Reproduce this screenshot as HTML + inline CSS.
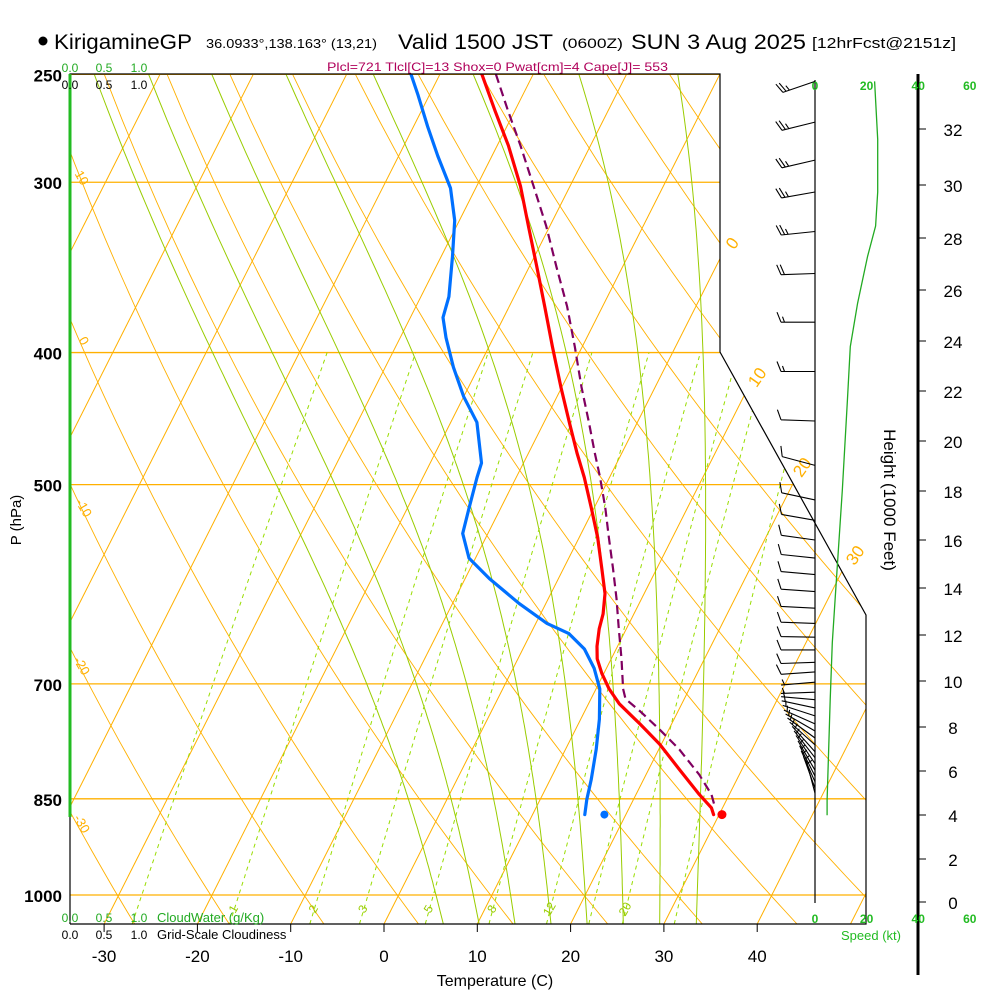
<!DOCTYPE html>
<html><head><meta charset="utf-8"><style>
html,body{margin:0;padding:0;background:#fff;}
svg{display:block;font-family:"Liberation Sans",Arial,sans-serif;}
</style></head><body>
<svg id="chart" width="1000" height="1000" viewBox="0 0 1000 1000" xmlns="http://www.w3.org/2000/svg">
<defs><clipPath id="plotclip"><polygon points="70,74 720,74 720,352 866,615 866,924 70,924"/></clipPath></defs>
<g>
<circle cx="43" cy="41" r="4.5" fill="#000"/>
<text x="54" y="49" font-size="21" textLength="138" lengthAdjust="spacingAndGlyphs">KirigamineGP</text>
<text x="206" y="48" font-size="12.5" textLength="171" lengthAdjust="spacingAndGlyphs">36.0933°,138.163° (13,21)</text>
<text x="398" y="49" font-size="21" textLength="155" lengthAdjust="spacingAndGlyphs">Valid 1500 JST</text>
<text x="562" y="48" font-size="14" textLength="61" lengthAdjust="spacingAndGlyphs">(0600Z)</text>
<text x="631" y="49" font-size="21" textLength="175" lengthAdjust="spacingAndGlyphs">SUN 3 Aug 2025</text>
<text x="812" y="48" font-size="15" textLength="144" lengthAdjust="spacingAndGlyphs">[12hrFcst@2151z]</text>
<text x="327" y="71" font-size="12" fill="#b0005a" textLength="341" lengthAdjust="spacingAndGlyphs">Plcl=721 Tlcl[C]=13 Shox=0 Pwat[cm]=4 Cape[J]= 553</text>
</g>
<g id="grid" clip-path="url(#plotclip)"></g>
<g id="data" clip-path="url(#plotclip)"></g>
<g id="axes"></g>
</svg>
<script>
// ---- sounding data (pressure hPa, temperature C) ----
const tempP = [250,266,282,302,323,346,370,396,424,450,474,494,520,547,576,601,622,638,657,671,688,706,724,749,775,809,844,863,873];
const tempT = [-35.5,-32.1,-28.8,-25.3,-22.3,-19.2,-16.2,-13.2,-10.1,-7.3,-4.8,-2.7,-0.3,2.0,4.1,5.8,6.7,7.1,7.8,8.5,9.8,11.4,13.3,16.6,19.8,23.3,26.8,28.8,29.4];
const dewP = [250,259,273,287,303,320,340,364,377,390,410,431,450,482,494,520,543,566,586,611,632,643,660,682,706,743,782,823,851,873];
const dewT = [-43.1,-41.2,-38.5,-35.8,-32.7,-30.5,-28.8,-27.0,-26.5,-25.1,-22.7,-20.0,-17.2,-14.5,-14.2,-13.4,-12.7,-10.7,-7.4,-2.9,1.2,4.1,6.6,8.7,10.4,12.0,13.3,14.4,15.0,15.6];
const parcelP = [250,266,282,302,323,346,370,396,424,450,474,494,520,547,576,606,638,671,706,718,733,756,782,816,844,863];
const parcelT = [-34.0,-30.7,-27.5,-23.9,-20.4,-17.1,-13.8,-10.8,-7.9,-5.2,-2.9,-1.0,1.2,3.2,5.3,7.3,9.2,11.1,12.9,13.7,15.9,19.0,22.2,25.7,28.1,29.2];
const sfcP = 873, sfcT = 30.3, sfcTd = 17.7;
// ---- wind data ----
const windP = [253,271,289,305,326,350,380,413,449,484,513,531,549,566,582,599,616,632,647,661,675,686,698,710,719,729,739,749,758,767,776,785,793,801,810,818,826,835,842];
const windDir = [251,256,257,260,264,268,270,270,272,285,282,280,278,276,275,274,273,272,271,270,268,266,265,268,275,282,288,294,300,306,312,318,322,326,330,333,336,340,345];
const windSpd = [25,25,25,25,25,20,15,15,10,10,10,10,10,10,10,10,10,10,10,10,10,10,5,5,5,5,5,5,5,5,5,5,5,5,5,5,5,5,5];
const spdP = [253,279,305,323,340,368,396,435,505,607,653,719,852,874];
const spdV = [23.1,24.3,24.3,23.5,20.4,16.5,13.7,12.5,10.6,7.8,6.7,5.9,4.7,4.7];
// ---- grid definitions / tick labels ----
const pLevels = [250,300,400,500,700,850,1000];
const tTicks = [-30,-20,-10,0,10,20,30,40];
const isotherms = [-110,-100,-90,-80,-70,-60,-50,-40,-30,-20,-10,0,10,20,30,40,50];
const thetas = [233,243,253,263,273,283,293,303,313,323,333,343,353,363,373,383,393,403,413,423,433,443,453,463,473];
const moistStart = [4,8,12,16,20,24,28,32];
const mixRatios = [0.4,1,2,3,5,8,12,16,20,28];
const mixLabels = ["1","2","3","5","8","12","20"];
const heightTicks = [0,2,4,6,8,10,12,14,16,18,20,22,24,26,28,30,32];
const heightY = [902,859,815,771,727,681,635,588,540,491,441,391,341,290,238,185,129];
const speedTicks = [0,20,40,60];

const NS='http://www.w3.org/2000/svg';
function yP(p){return 895+592*Math.log(p/1000);}
function xT(T,p){return 384+9.33*T+0.505*(924-yP(p));}
function xSpd(s){return 815+2.58*s;}
function mk(tag,attrs,parent){const e=document.createElementNS(NS,tag);for(const k in attrs)e.setAttribute(k,attrs[k]);parent.appendChild(e);return e;}
const grid=document.getElementById('grid'), data=document.getElementById('data'), axes=document.getElementById('axes');
const ORANGE='#ffb000', GREEN='#99cc00';

pLevels.forEach(p=>{const l=mk('line',{x1:70,x2:866,y1:yP(p),y2:yP(p),stroke:ORANGE,'stroke-width':1.3},grid);

});
isotherms.forEach(T=>{const l=mk('line',{x1:xT(T,1050),y1:yP(1050),x2:xT(T,250),y2:yP(250),stroke:ORANGE,'stroke-width':1},grid);

});
thetas.forEach(th=>{let pts=[];for(let p=1050;p>=250;p-=20){const T=th*Math.pow(p/1000,0.2857)-273.15;pts.push(xT(T,p).toFixed(1)+','+yP(p).toFixed(1));}
const l=mk('polyline',{points:pts.join(' '),fill:'none',stroke:ORANGE,'stroke-width':0.9},grid);

});
function es(Tc){return 6.112*Math.exp(17.67*Tc/(Tc+243.5));}
function dTdp(Tk,p){const rs=0.622*es(Tk-273.15)/(p-es(Tk-273.15));const L=2.5e6,Rd=287,cp=1005;
return (1/p)*(Rd*Tk+L*rs)/(cp+L*L*rs*0.622/(Rd*Tk*Tk));}
moistStart.forEach(T0=>{let pts=[];let Tk=T0+273.15;
let Tdn=Tk;for(let p=1000;p<1050;p+=5){Tdn+=dTdp(Tdn,p)*5;}
pts.push(xT(Tdn-273.15,1050).toFixed(1)+','+yP(1050).toFixed(1));
for(let p=1000;p>=250;p-=5){pts.push(xT(Tk-273.15,p).toFixed(1)+','+yP(p).toFixed(1));Tk-=dTdp(Tk,p)*5;}
const l=mk('polyline',{points:pts.join(' '),fill:'none',stroke:GREEN,'stroke-width':1},grid);

});
mixRatios.forEach(w=>{let pts=[];for(let p=1050;p>=400;p-=10){const e=w*p/(622+w);const a=Math.log(e/6.112);const Td=243.5*a/(17.67-a);pts.push(xT(Td,p).toFixed(1)+','+yP(p).toFixed(1));}
const l=mk('polyline',{points:pts.join(' '),fill:'none',stroke:'#99dd00','stroke-width':1,'stroke-dasharray':'4,4'},grid);

});
mixLabels.forEach(s=>{const w=parseFloat(s);const p=1030;const e=w*p/(622+w);const a=Math.log(e/6.112);const Td=243.5*a/(17.67-a);
const t=mk('text',{x:xT(Td,p),y:913,'font-size':12,fill:GREEN,'text-anchor':'middle',transform:'rotate(-60 '+xT(Td,p)+' 909)'},grid);t.textContent=s;

});

function line(P,T,attrs,name){const pts=P.map((p,i)=>xT(T[i],p).toFixed(1)+','+yP(p).toFixed(1)).join(' ');
const l=mk('polyline',Object.assign({points:pts,fill:'none','stroke-linejoin':'round','stroke-linecap':'round'},attrs),data);

}
line(parcelP,parcelT,{stroke:'#800060','stroke-width':2.2,'stroke-dasharray':'9,5','stroke-linecap':'butt'},'parcel-path');
line(tempP,tempT,{stroke:'#ff0000','stroke-width':3.2},'temperature-line');
line(dewP,dewT,{stroke:'#0070ff','stroke-width':3.2},'dewpoint-line');
const d1=mk('circle',{cx:xT(sfcT,sfcP),cy:yP(sfcP),r:4.5,fill:'#ff0000'},data);


const d2=mk('circle',{cx:xT(sfcTd,sfcP),cy:yP(sfcP),r:4,fill:'#0070ff'},data);



const fr=mk('polyline',{points:'70,924 70,74 720,74 720,352 866,615 866,924 70,924',fill:'none',stroke:'#000','stroke-width':1.2},axes);


const gl=mk('line',{x1:70,y1:74,x2:70,y2:817,stroke:'#22bb22','stroke-width':3},axes);


pLevels.forEach(p=>{const t=mk('text',{x:62,y:yP(p)+7,'font-size':17,'font-weight':'bold','text-anchor':'end'},axes);t.textContent=p;

});
tTicks.forEach(T=>{const x=384+9.33*T;const l=mk('line',{x1:x,x2:x,y1:924,y2:932,stroke:'#000','stroke-width':1},axes);


const t=mk('text',{x:x,y:962,'font-size':17,'text-anchor':'middle'},axes);t.textContent=T;

});
function txt(s,a,name){const t=mk('text',a,axes);t.textContent=s;

return t;}
txt('Temperature (C)',{x:495,y:986,'font-size':16,'text-anchor':'middle'},'x-axis-title');
txt('P (hPa)',{x:21,y:520,'font-size':15,'text-anchor':'middle',transform:'rotate(-90 21 520)'},'y-axis-title');
txt('Height (1000 Feet)',{x:884,y:500,'font-size':17,'text-anchor':'middle',transform:'rotate(90 884 500)'},'height-axis-title');
[['0.0',70],['0.5',104],['1.0',139]].forEach(([s,x])=>{
txt(s,{x:x,y:72,'font-size':12,fill:'#22aa22','text-anchor':'middle'},'cloudwater-scale-top');
txt(s,{x:x,y:89,'font-size':12,'text-anchor':'middle'},'cloudiness-scale-top');
txt(s,{x:x,y:922,'font-size':12,fill:'#22aa22','text-anchor':'middle'},'cloudwater-scale-bottom');
txt(s,{x:x,y:939,'font-size':12,'text-anchor':'middle'},'cloudiness-scale-bottom');});
txt('CloudWater (g/Kg)',{x:157,y:922,'font-size':13,fill:'#22aa22'},'cloudwater-title');
txt('Grid-Scale Cloudiness',{x:157,y:939,'font-size':13},'cloudiness-title');
[['10',78,180],['0',80,343],['-10',80,510],['-20',78,668],['-30',78,826]].forEach(([s,x,y])=>txt(s,{x:x,y:y,'font-size':13,fill:ORANGE,'text-anchor':'middle',transform:'rotate(60 '+x+' '+y+')'},'isotherm-label-left'));
[['0',732,243],['10',757,377],['20',802,467],['30',855,555]].forEach(([s,x,y])=>txt(s,{x:x,y:y+6,'font-size':17,fill:ORANGE,'text-anchor':'middle',transform:'rotate(-55 '+x+' '+y+')'},'isotherm-label-right'));
const ha=mk('line',{x1:918,y1:74,x2:918,y2:975,stroke:'#000','stroke-width':3},axes);


heightTicks.forEach((h,i)=>{const y=heightY[i];const l=mk('line',{x1:918,x2:926,y1:y,y2:y,stroke:'#000','stroke-width':1},axes);


txt(h,{x:953,y:y+7,'font-size':17,'text-anchor':'middle'},'height-label');});
const sa=mk('line',{x1:815,y1:80,x2:815,y2:903,stroke:'#000','stroke-width':1.2},axes);


speedTicks.forEach(s=>{
txt(s,{x:xSpd(s),y:90,'font-size':12,'font-weight':'bold',fill:'#22bb22','text-anchor':'middle'},'speed-label-top');
txt(s,{x:xSpd(s),y:923,'font-size':12,'font-weight':'bold',fill:'#22bb22','text-anchor':'middle'},'speed-label-bottom');});
txt('Speed (kt)',{x:871,y:940,'font-size':13,fill:'#22bb22','text-anchor':'middle'},'speed-axis-title');
const sp=mk('polyline',{points:spdP.map((p,i)=>xSpd(spdV[i]).toFixed(1)+','+yP(p).toFixed(1)).join(' '),fill:'none',stroke:'#22aa22','stroke-width':1.3},axes);


windP.forEach((p,i)=>{const bx=815,by=yP(p);const r=windDir[i]*Math.PI/180;const ux=Math.sin(r),uy=-Math.cos(r);const L=34;
const tx=bx+ux*L,ty=by+uy*L;const px=-uy,py=ux;
let d='M'+bx+','+by.toFixed(1)+'L'+tx.toFixed(1)+','+ty.toFixed(1);
let s=windSpd[i];let k=0;
while(s>=10){const ax=tx-ux*k*3.5,ay=ty-uy*k*3.5;d+='M'+ax.toFixed(1)+','+ay.toFixed(1)+'l'+(px*10+ux*4).toFixed(1)+','+(py*10+uy*4).toFixed(1);s-=10;k++;}
if(s>=5){if(k==0)k=1;const ax=tx-ux*k*3.5,ay=ty-uy*k*3.5;d+='M'+ax.toFixed(1)+','+ay.toFixed(1)+'l'+(px*5.5+ux*2).toFixed(1)+','+(py*5.5+uy*2).toFixed(1);}
const b=mk('path',{d:d,fill:'none',stroke:'#000','stroke-width':1.1},axes);

});
</script>
</body></html>
